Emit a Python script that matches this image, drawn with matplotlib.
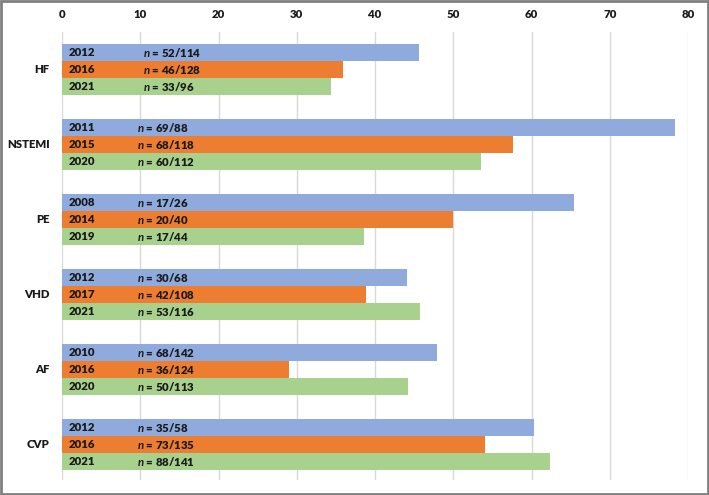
import matplotlib.pyplot as plt
from matplotlib.patches import Rectangle

categories = ["HF", "NSTEMI", "PE", "VHD", "AF", "CVP"]
years = [["2012", "2016", "2021"],
         ["2011", "2015", "2020"],
         ["2008", "2014", "2019"],
         ["2012", "2017", "2021"],
         ["2010", "2016", "2020"],
         ["2012", "2016", "2021"]]
counts = [["52/114", "46/128", "33/96"],
          ["69/88", "68/118", "60/112"],
          ["17/26", "20/40", "17/44"],
          ["30/68", "42/108", "53/116"],
          ["68/142", "36/124", "50/113"],
          ["35/58", "73/135", "88/141"]]
values = [[45.6, 35.9, 34.4],
          [78.4, 57.6, 53.6],
          [65.4, 50.0, 38.6],
          [44.1, 38.9, 45.7],
          [47.9, 29.0, 44.2],
          [60.3, 54.1, 62.4]]
colors = ["#8FAADC", "#ED7D31", "#A9D18E"]

plt.rcParams['font.family'] = ['Lato', 'DejaVu Sans']
plt.rcParams['font.weight'] = 800
plt.rcParams['mathtext.fontset'] = 'custom'
plt.rcParams['mathtext.it'] = 'Lato:italic:bold'
plt.rcParams['mathtext.rm'] = 'Lato:bold'

fig = plt.figure(figsize=(7.09, 4.95), dpi=100)
ax = fig.add_axes([62 / 709, 1 - 480 / 495, 626 / 709, 448 / 495])

fs = 8.2
wt = 800
pitch = 75 / 17
n_x = [10.4, 9.6, 9.6, 9.6, 9.6, 9.6]
for i, cat in enumerate(categories):
    base = i * pitch
    for j in range(3):
        y = base + j
        ax.barh(y, values[i][j], height=1.0, color=colors[j], align='edge', zorder=2)
        ax.text(0.8, y + 0.5, years[i][j], va='center', ha='left', fontsize=fs,
                fontweight=wt, color='#1a1a1a', zorder=3)
        ax.text(n_x[i], y + 0.5, r"$\it{n}$ = " + counts[i][j], va='center', ha='left',
                fontsize=fs, fontweight=wt, color='#1a1a1a', zorder=3)
    ax.text(-1.6, base + 1.5, cat, va='center', ha='right', fontsize=fs,
            fontweight=wt, color='#1a1a1a')

ax.set_xlim(0, 80)
ax.set_ylim(5 * pitch + 3 + 10 / 17, -12 / 17)
ax.set_xticks(range(0, 81, 10))
ax.xaxis.tick_top()
ax.tick_params(axis='x', length=0, pad=9, labelsize=fs, labelcolor='#1a1a1a')
for lab in ax.get_xticklabels():
    lab.set_fontweight(wt)
ax.set_yticks([])
ax.grid(axis='x', color='#D9D9D9', linewidth=1, zorder=0)
for s in ax.spines.values():
    s.set_visible(False)

fig.patches.append(Rectangle((0.002, 0.003), 0.996, 0.994, transform=fig.transFigure,
                             fill=False, edgecolor='#808080', linewidth=2))

fig.savefig("out.png", dpi=100)
